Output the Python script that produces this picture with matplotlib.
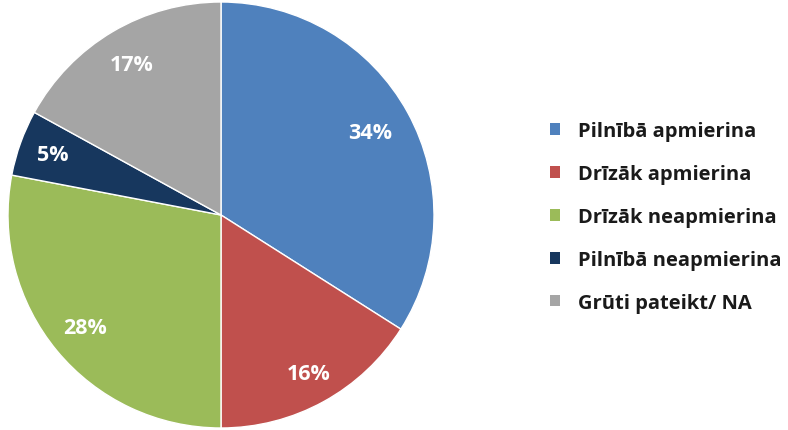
import matplotlib
matplotlib.use("Agg")
import matplotlib.pyplot as plt
from matplotlib.patches import Patch

categories = ["Pilnībā apmierina", "Drīzāk apmierina", "Drīzāk neapmierina",
              "Pilnībā neapmierina", "Grūti pateikt/ NA"]
values = [34, 16, 28, 5, 17]
colors = ["#4F81BD", "#C0504D", "#9BBB59", "#17375E", "#A5A5A5"]
label_dist = [0.80, 0.85, 0.83, 0.84, 0.82]

plt.rcParams['font.family'] = ['Open Sans', 'DejaVu Sans']

W, H = 788, 431
fig = plt.figure(figsize=(W / 100, H / 100), dpi=100)
cx, cy, r = 221, 216, 213
ax = fig.add_axes([(cx - r) / W, (H - cy - r) / H, 2 * r / W, 2 * r / H])
wedges, texts = ax.pie(values, colors=colors, startangle=90, counterclock=False,
                       radius=1.0, labels=[f"{v}%" for v in values],
                       labeldistance=1.0,
                       wedgeprops=dict(edgecolor="white", linewidth=1.0))
for t, d in zip(texts, label_dist):
    x, y = t.get_position()
    t.set_position((x * d, y * d))
    t.set_color("white")
    t.set_fontweight("bold")
    t.set_fontsize(15.5)
    t.set_ha("center")
    t.set_va("center")
ax.set_xlim(-1, 1)
ax.set_ylim(-1, 1)
ax.set_aspect("equal")
ax.axis("off")

handles = [Patch(facecolor=c, edgecolor="none") for c in colors]
leg = fig.legend(handles, categories, loc="upper left",
                 bbox_to_anchor=(542 / W, 1 - 114 / H), frameon=False,
                 prop=dict(family=['Open Sans', 'DejaVu Sans'], weight='bold', size=14.5),
                 handlelength=0.5, handleheight=0.5, handletextpad=0.9,
                 labelspacing=1.14, borderaxespad=0)
for t in leg.get_texts():
    t.set_color("#1a1a1a")

fig.savefig("out.png", dpi=100)
